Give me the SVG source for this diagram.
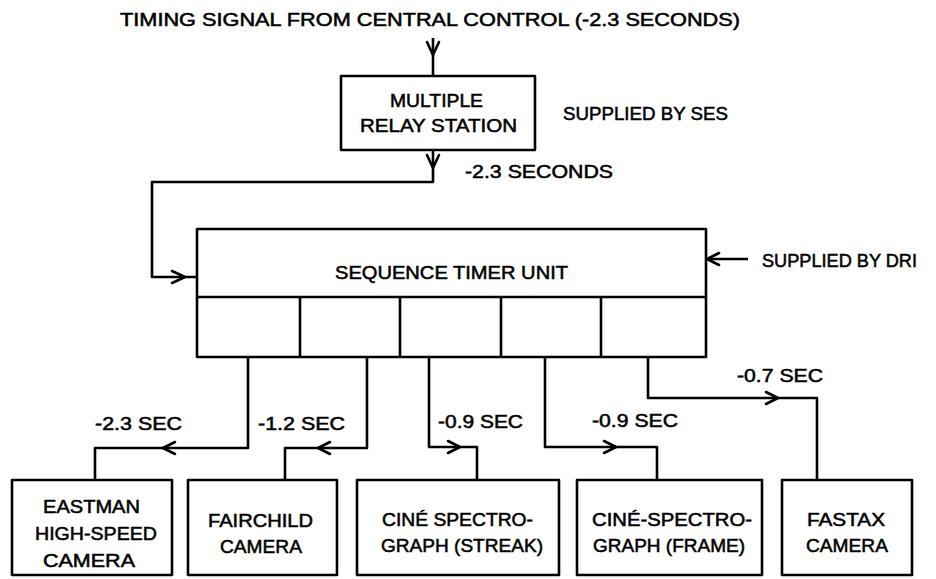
<svg xmlns="http://www.w3.org/2000/svg" width="936" height="579" viewBox="0 0 936 579">
<style>
.bx{fill:none;stroke:#000;stroke-width:2.6;stroke-linejoin:round}
.ln{fill:none;stroke:#000;stroke-width:2.6;stroke-linejoin:round}
.ah{fill:none;stroke:#000;stroke-width:2.6;stroke-linecap:round;stroke-linejoin:round}
text{font-family:"Liberation Sans",Arial,sans-serif;font-size:17.5px;fill:#000;stroke:#000;stroke-width:0.5}
</style>
<rect width="936" height="579" fill="#fff"/>
<g id="labels">
<text x="120" y="26" textLength="620" lengthAdjust="spacingAndGlyphs">TIMING SIGNAL FROM CENTRAL CONTROL (-2.3 SECONDS)</text>
<text x="563" y="120" textLength="165" lengthAdjust="spacingAndGlyphs">SUPPLIED BY SES</text>
<text x="465" y="178" textLength="148" lengthAdjust="spacingAndGlyphs">-2.3 SECONDS</text>
<text x="762" y="267" textLength="155" lengthAdjust="spacingAndGlyphs">SUPPLIED BY DRI</text>
<text x="95" y="430" textLength="87" lengthAdjust="spacingAndGlyphs">-2.3 SEC</text>
<text x="258" y="430" textLength="87" lengthAdjust="spacingAndGlyphs">-1.2 SEC</text>
<text x="438" y="428" textLength="85" lengthAdjust="spacingAndGlyphs">-0.9 SEC</text>
<text x="592" y="427" textLength="86" lengthAdjust="spacingAndGlyphs">-0.9 SEC</text>
<text x="737" y="382" textLength="86" lengthAdjust="spacingAndGlyphs">-0.7 SEC</text>
</g>
<g id="relay">
<rect class="bx" x="341" y="76" width="194" height="74"/>
<text x="390" y="107" textLength="93" lengthAdjust="spacingAndGlyphs">MULTIPLE</text>
<text x="360" y="132" textLength="157" lengthAdjust="spacingAndGlyphs">RELAY STATION</text>
</g>
<g id="timer">
<rect class="bx" x="197" y="229" width="509" height="128"/>
<line class="ln" x1="197" y1="297" x2="706" y2="297"/>
<line class="ln" x1="300" y1="297" x2="300" y2="357"/>
<line class="ln" x1="400" y1="297" x2="400" y2="357"/>
<line class="ln" x1="501" y1="297" x2="501" y2="357"/>
<line class="ln" x1="601" y1="297" x2="601" y2="357"/>
<text x="335" y="279" textLength="233" lengthAdjust="spacingAndGlyphs">SEQUENCE TIMER UNIT</text>
</g>
<g id="eastman">
<rect class="bx" x="12" y="480" width="160" height="95"/>
<text x="43" y="513" textLength="97" lengthAdjust="spacingAndGlyphs">EASTMAN</text>
<text x="35" y="540" textLength="122" lengthAdjust="spacingAndGlyphs">HIGH-SPEED</text>
<text x="43" y="567" textLength="92" lengthAdjust="spacingAndGlyphs">CAMERA</text>
</g>
<g id="fairchild">
<rect class="bx" x="188" y="480" width="149" height="95"/>
<text x="208" y="527" textLength="105" lengthAdjust="spacingAndGlyphs">FAIRCHILD</text>
<text x="220" y="553" textLength="82" lengthAdjust="spacingAndGlyphs">CAMERA</text>
</g>
<g id="streak">
<rect class="bx" x="357" y="480" width="202" height="95"/>
<text x="382" y="526" textLength="151" lengthAdjust="spacingAndGlyphs">CINÉ SPECTRO-</text>
<text x="381" y="552" textLength="162" lengthAdjust="spacingAndGlyphs">GRAPH (STREAK)</text>
</g>
<g id="frame">
<rect class="bx" x="577" y="480" width="185" height="95"/>
<text x="592" y="526" textLength="160" lengthAdjust="spacingAndGlyphs">CINÉ-SPECTRO-</text>
<text x="593" y="552" textLength="152" lengthAdjust="spacingAndGlyphs">GRAPH (FRAME)</text>
</g>
<g id="fastax">
<rect class="bx" x="782" y="480" width="130" height="95"/>
<text x="807" y="526" textLength="78" lengthAdjust="spacingAndGlyphs">FASTAX</text>
<text x="806" y="552" textLength="82" lengthAdjust="spacingAndGlyphs">CAMERA</text>
</g>
<g id="connectors">
<line class="ln" x1="433" y1="38" x2="433" y2="76"/>
<polyline class="ah" points="427,42 433,55 439,42"/>
<polyline class="ln" points="433,150 433,182 152,182 152,277 197,277"/>
<polyline class="ah" points="427,155 433,168 439,155"/>
<polyline class="ah" points="172,271 185,277 172,283"/>
<line class="ln" x1="748" y1="259" x2="706" y2="259"/>
<polyline class="ah" points="719,253 707,259 719,265"/>
<polyline class="ln" points="248,357 248,448 95,448 95,480"/>
<polyline class="ah" points="175,442 163,448 175,454"/>
<polyline class="ln" points="367,357 367,448 285,448 285,480"/>
<polyline class="ah" points="330,442 318,448 330,454"/>
<polyline class="ln" points="429,357 429,447 477,447 477,480"/>
<polyline class="ah" points="448,441 460,447 448,453"/>
<polyline class="ln" points="545,357 545,447 657,447 657,480"/>
<polyline class="ah" points="604,441 616,447 604,453"/>
<polyline class="ln" points="648,357 648,398 817,398 817,480"/>
<polyline class="ah" points="766,392 778,398 766,404"/>
</g>
</svg>
